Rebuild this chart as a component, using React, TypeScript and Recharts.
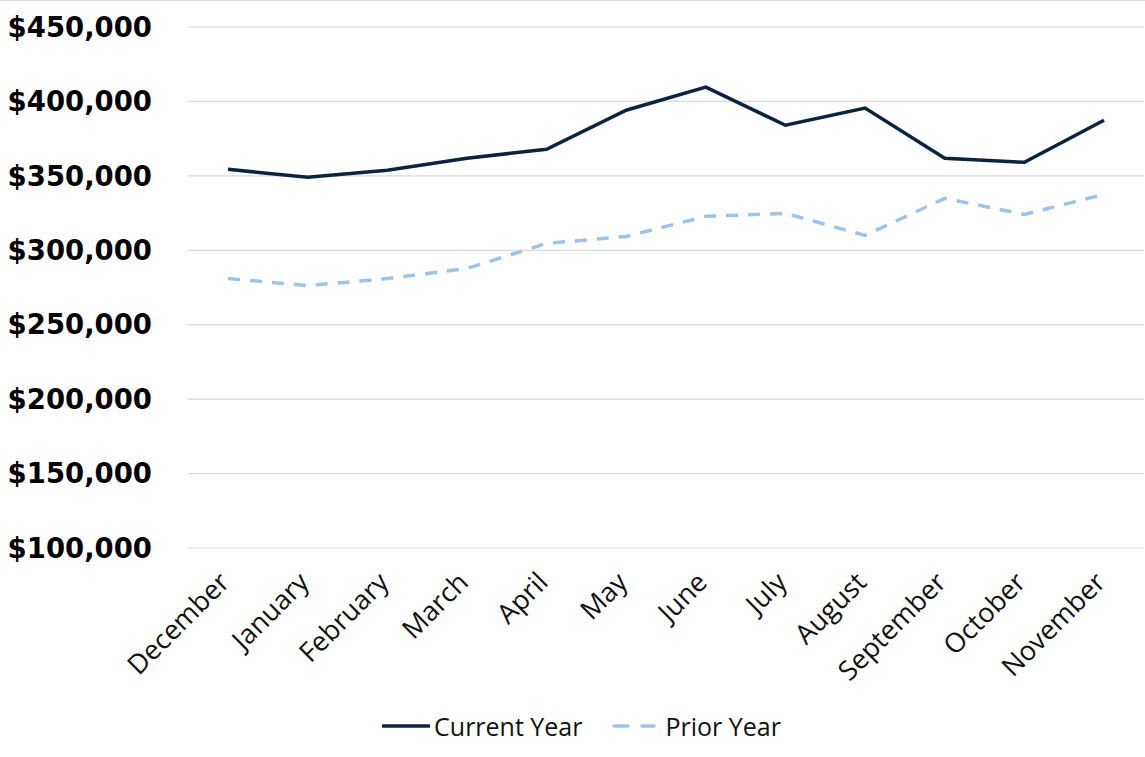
import React from "react";
import { LineChart, Line, XAxis, YAxis, CartesianGrid } from "recharts";

const months = ["December", "January", "February", "March", "April", "May", "June", "July", "August", "September", "October", "November"];
const currentYear = [354400, 349000, 353800, 361800, 367900, 394100, 409600, 384000, 395500, 361800, 359100, 387400];
const priorYear = [281000, 276300, 281000, 287800, 304600, 309300, 322800, 324800, 310000, 334900, 324100, 337600];
const yTicks = [100000, 150000, 200000, 250000, 300000, 350000, 400000, 450000];

const data = months.map((m, i) => ({ month: m, current: currentYear[i], prior: priorYear[i] }));

const CUR = "#0c2340";
const PRI = "#9dc3e6";

const fmt = (v: number) => "$" + v.toLocaleString("en-US");

const XTick = (props: any) => {
  const { x, y, payload } = props;
  const ax = x + 3;
  const ay = y + 28;
  return (
    <text
      x={ax}
      y={ay}
      transform={`rotate(-45, ${ax}, ${ay})`}
      textAnchor="end"
      fontFamily="'Open Sans', sans-serif"
      fontSize={27}
      fill="#111"
    >
      {payload.value}
    </text>
  );
};

export default function App() {
  return (
    <div style={{ position: "absolute", left: 0, top: 0, width: 1145, height: 757, background: "#fff", borderTop: "1px solid #dcdcdc", boxSizing: "border-box" }}>
      <LineChart width={1145} height={756} data={data} margin={{ top: 26, right: 1, bottom: 0, left: 0 }}>
        <CartesianGrid vertical={false} stroke="#d9d9d9" strokeWidth={1.2} />
        <XAxis
          dataKey="month"
          axisLine={false}
          tickLine={false}
          interval={0}
          padding={{ left: 40, right: 40 }}
          height={209}
          tick={<XTick />}
        />
        <YAxis
          domain={[100000, 450000]}
          ticks={yTicks}
          tickFormatter={fmt}
          axisLine={false}
          tickLine={false}
          tickSize={0}
          tickMargin={36}
          width={188}
          tick={{ fontFamily: "'DejaVu Sans', sans-serif", fontWeight: 700, fontSize: 27.5, fill: "#000" }}
        />
        <Line type="linear" dataKey="prior" stroke={PRI} strokeWidth={3.5} strokeDasharray="12 10" dot={false} isAnimationActive={false} />
        <Line type="linear" dataKey="current" stroke={CUR} strokeWidth={3.5} dot={false} isAnimationActive={false} />
      </LineChart>
      <div style={{ position: "absolute", top: 708, left: 9, width: 1145, display: "flex", justifyContent: "center", alignItems: "center", fontFamily: "'Open Sans', sans-serif", fontSize: 25, color: "#111" }}>
        <svg width={48} height={6} style={{ marginRight: 4 }}>
          <line x1={1} y1={3} x2={47} y2={3} stroke={CUR} strokeWidth={3.5} strokeLinecap="round" />
        </svg>
        <span>Current Year</span>
        <svg width={44} height={6} style={{ marginLeft: 30, marginRight: 9 }}>
          <line x1={2} y1={3} x2={42} y2={3} stroke={PRI} strokeWidth={3.5} strokeDasharray="14 14" strokeLinecap="round" />
        </svg>
        <span>Prior Year</span>
      </div>
    </div>
  );
}
